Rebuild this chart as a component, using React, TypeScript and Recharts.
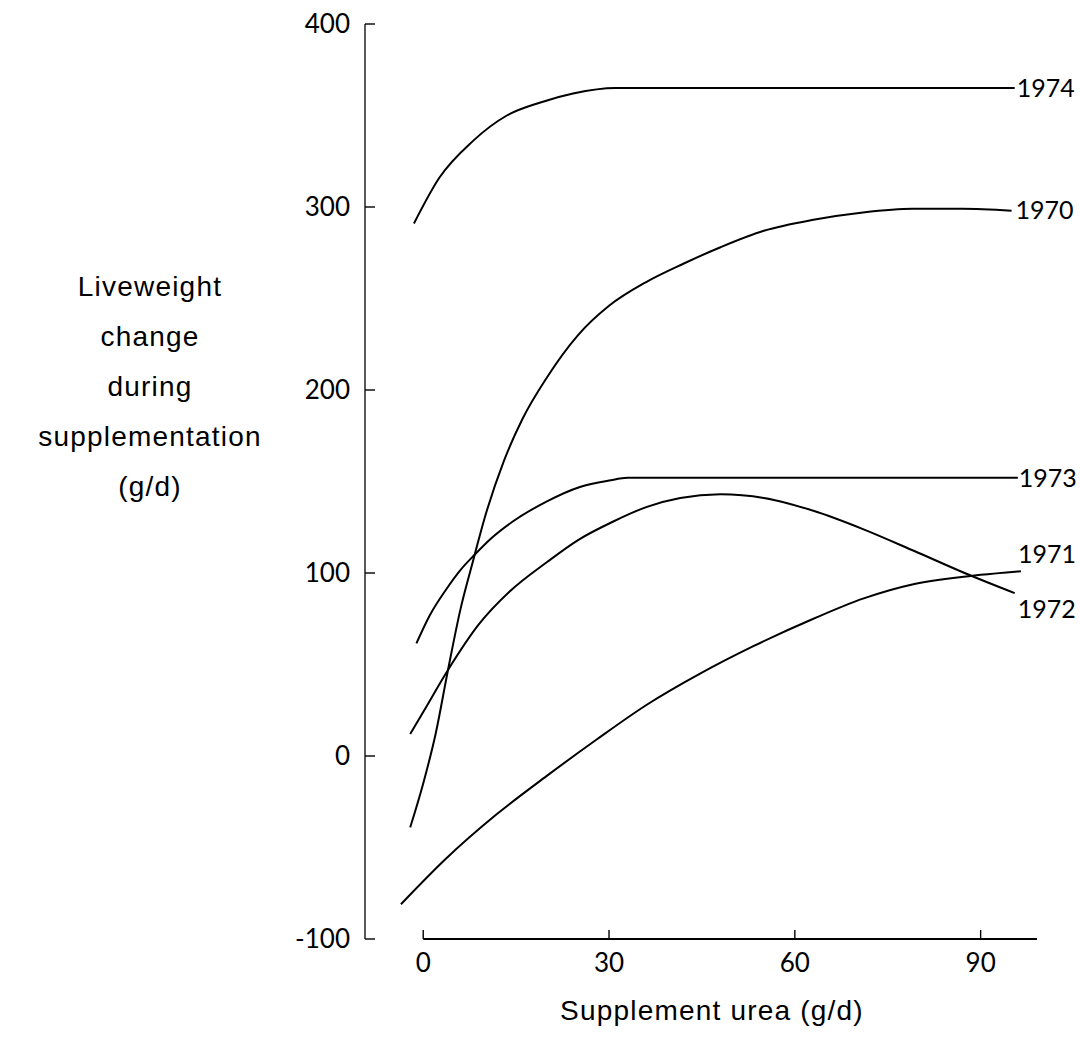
import React from 'react';
import { LineChart, Line, XAxis, YAxis, ReferenceLine } from 'recharts';

// supplement urea (g/d) vs liveweight change (g/d)
const s1974 = [
  { x: -1.5, y: 291 }, { x: 2.6, y: 316 }, { x: 8, y: 336 }, { x: 13.5, y: 350 },
  { x: 18.8, y: 357 }, { x: 24.2, y: 362 }, { x: 31, y: 365 }, { x: 95.5, y: 365 },
];
const s1970 = [
  { x: -2.1, y: -39 }, { x: 0, y: -15 }, { x: 2, y: 12 }, { x: 4, y: 47 }, { x: 6, y: 80 },
  { x: 8, y: 106 }, { x: 10, y: 131 }, { x: 13, y: 161 }, { x: 16, y: 184 }, { x: 20, y: 207 },
  { x: 25, y: 230 }, { x: 30, y: 246 }, { x: 36, y: 259 }, { x: 42, y: 269 }, { x: 48, y: 278 },
  { x: 55, y: 287 }, { x: 63, y: 293 }, { x: 71, y: 297 }, { x: 79, y: 299 }, { x: 87, y: 299 },
  { x: 95, y: 298 },
];
const s1973 = [
  { x: -1.1, y: 61.5 }, { x: 1, y: 76.5 }, { x: 3.7, y: 91 }, { x: 6.1, y: 102 }, { x: 8.3, y: 110 },
  { x: 11, y: 119 }, { x: 14.4, y: 128 }, { x: 19.9, y: 139 }, { x: 25.3, y: 147 },
  { x: 30, y: 150.5 }, { x: 33, y: 152 }, { x: 96, y: 152 },
];
const s1972 = [
  { x: -2.1, y: 12 }, { x: 0, y: 24 }, { x: 4, y: 47 }, { x: 9, y: 72 }, { x: 14, y: 90 },
  { x: 20, y: 106 }, { x: 25, y: 118 }, { x: 30.6, y: 128 }, { x: 36, y: 136 }, { x: 41.5, y: 141 },
  { x: 48, y: 143 }, { x: 55, y: 141 }, { x: 63, y: 134 }, { x: 71, y: 124 }, { x: 79.3, y: 112 },
  { x: 87.4, y: 100 }, { x: 95.5, y: 89 },
];
const s1971 = [
  { x: -3.6, y: -81 }, { x: 3.7, y: -56 }, { x: 11.8, y: -32 }, { x: 19.9, y: -11 }, { x: 28, y: 9 },
  { x: 36.1, y: 28 }, { x: 44.7, y: 45 }, { x: 53.3, y: 60 }, { x: 63, y: 75 }, { x: 71, y: 86 },
  { x: 79.3, y: 94 }, { x: 90, y: 99 }, { x: 96.5, y: 101 },
];

const xTicks = [0, 30, 60, 90];
const yTicks = [-100, 0, 100, 200, 300, 400];
const yTitle = ['Liveweight', 'change', 'during', 'supplementation', '(g/d)'];
const xTitle = 'Supplement urea (g/d)';

const tickFont = 'Lato, "Open Sans", sans-serif';
const titleFont = '"Liberation Sans", Arial, sans-serif';

const XTick = (props: any) => {
  const { x, y, payload } = props;
  return (
    <g>
      <line x1={x} y1={y} x2={x} y2={y - 9} stroke="#000" strokeWidth={1.4} />
      <text x={x} y={y + 33} textAnchor="middle" fontFamily={tickFont} fontSize={26} fill="#000">
        {payload.value}
      </text>
    </g>
  );
};

const YTick = (props: any) => {
  const { x, y, payload } = props;
  return (
    <g>
      <line x1={x} y1={y} x2={x + 10} y2={y} stroke="#000" strokeWidth={1.4} />
      <text x={x - 15} y={y} dy="0.35em" textAnchor="end" fontFamily={tickFont} fontSize={26} fill="#000">
        {payload.value}
      </text>
    </g>
  );
};

const endLabel = (name: string, last: number, dx: number, dy: number) => (props: any) => {
  if (props.index !== last) return <g />;
  return (
    <text x={props.x + dx} y={props.y + dy} dy="0.35em" fontFamily={tickFont} fontSize={25} fill="#000">
      {name}
    </text>
  );
};

const series = [
  { name: '1974', data: s1974, dx: 2, dy: 0 },
  { name: '1970', data: s1970, dx: 4, dy: 0 },
  { name: '1973', data: s1973, dx: 1, dy: 0 },
  { name: '1972', data: s1972, dx: 3, dy: 16 },
  { name: '1971', data: s1971, dx: -3, dy: -17 },
];

export default function App() {
  return (
    <div style={{ position: 'absolute', left: 0, top: 0, width: 1080, height: 1041, background: '#fff' }}>
      <LineChart width={1080} height={1041} margin={{ top: 24, right: 43, bottom: 72, left: 305 }}>
        <XAxis
          type="number"
          dataKey="x"
          domain={[-9.4, 99.1]}
          ticks={xTicks}
          allowDataOverflow
          axisLine={false}
          tickLine={false}
          tickSize={0}
          tickMargin={0}
          tick={<XTick />}
          height={30}
        />
        <YAxis
          type="number"
          dataKey="y"
          domain={[-100, 400]}
          ticks={yTicks}
          allowDataOverflow
          axisLine={{ stroke: '#000', strokeWidth: 1.3 }}
          tickLine={false}
          tickSize={0}
          tickMargin={0}
          tick={<YTick />}
          width={60}
        />
        <ReferenceLine
          segment={[{ x: 0, y: -100 }, { x: 99.1, y: -100 }]}
          stroke="#000"
          strokeWidth={1.8}
        />
        {series.map((s) => (
          <Line
            key={s.name}
            data={s.data}
            dataKey="y"
            type="monotone"
            stroke="#000"
            strokeWidth={2}
            dot={false}
            activeDot={false}
            isAnimationActive={false}
            label={endLabel(s.name, s.data.length - 1, s.dx, s.dy)}
          />
        ))}
      </LineChart>
      <div
        style={{
          position: 'absolute', left: 0, top: 262, width: 300, textAlign: 'center',
          fontFamily: titleFont, fontSize: 28, letterSpacing: 1.2, lineHeight: '50px', color: '#000',
        }}
      >
        {yTitle.map((t) => (
          <div key={t}>{t}</div>
        ))}
      </div>
      <div
        style={{
          position: 'absolute', left: 412, top: 995, width: 600, textAlign: 'center',
          fontFamily: titleFont, fontSize: 28, letterSpacing: 1.2, color: '#000',
        }}
      >
        {xTitle}
      </div>
    </div>
  );
}
